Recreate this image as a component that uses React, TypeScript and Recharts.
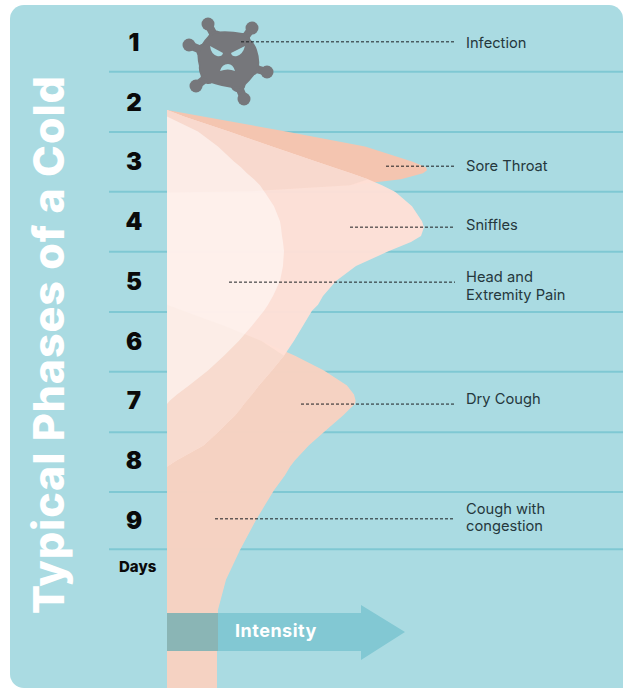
import { AreaChart, Area, XAxis, YAxis, CartesianGrid, ReferenceLine, ReferenceDot } from "recharts";

const PANEL = "#aadbe2";
const FONT = "Inter, 'Open Sans', sans-serif";

const days = [2.14, 2.25, 2.5, 2.75, 3, 3.1, 3.15, 3.2, 3.3, 3.4, 3.5, 3.52, 3.75, 4, 4.1, 4.25, 4.35, 4.5, 4.75, 5, 5.25, 5.4, 5.5, 5.75, 6, 6.25, 6.5, 6.75, 6.9, 7, 7.06, 7.15, 7.25, 7.5, 7.75, 8, 8.11, 8.25, 8.5, 8.75, 9, 9.5, 10, 10.5, 11, 11.81];

const n = null;
const soreThroat = [0, 18, 59.5, 99, 122.5, 129.5, 130, 128, 117, 91.5, 41.5, 0, n, n, n, n, n, n, n, n, n, n, n, n, n, n, n, n, n, n, n, n, n, n, n, n, n, n, n, n, n, n, n, n, n, n];
const sniffles = [0, 8.5, 31, 52.5, 74.5, 83, 87.5, 92, 100.5, 107.5, 113.5, 114.5, 122.5, 127.5, 128.5, 127, 122, 111, 94.5, 84.5, 78, 75.5, 72.5, 68, 63.5, 58.5, 52.5, 46, 42.5, 40, 38.5, 36.5, 34, 26.5, 18.5, 5, 0, n, n, n, n, n, n, n, n, n];
const headPain = [n, 0, 15.5, 25.5, 33.5, 37, 38.5, 40, 43.5, 46.5, 48.5, 49, 53.5, 56.5, 57, 57.5, 58, 58.5, 58, 56.5, 53, 50.5, 48.5, 42.5, 36, 28.5, 20.5, 11, 5, 1.5, 0, n, n, n, n, n, n, n, n, n, n, n, n, n, n, n];
const dryCough = [n, n, n, n, n, n, n, n, n, n, n, n, n, n, n, n, n, n, n, n, n, 0, 8, 28.5, 47, 64, 78.5, 90, 93.5, 94.3, 94, 91, 88, 79.5, 71, 64, 61.5, 59, 53.5, 49, 44.5, 36.5, 29.5, 25.5, 25, 25];

// where two symptoms overlap the source picture shows one muted tint
const overlap = (a: (number | null)[], b: (number | null)[]) =>
  a.map((v, i) => (v === null || b[i] === null ? null : Math.min(v as number, b[i] as number)));
const throatSniffles = overlap(soreThroat, sniffles);
const coughSniffles = overlap(dryCough, sniffles);

const data = days.map((day, i) => ({
  day,
  soreThroat: soreThroat[i],
  sniffles: sniffles[i],
  headPain: headPain[i],
  dryCough: dryCough[i],
  throatSniffles: throatSniffles[i],
  coughSniffles: coughSniffles[i],
}));

const dayTicks = [1, 2, 3, 4, 5, 6, 7, 8, 9];
const gridDays = [1.5, 2.51, 3.51, 4.51, 5.52, 6.52, 7.53, 8.53, 9.49];

const callouts = [
  { lines: ["Infection"], day: 1, labelDay: 1.02, from: 37 },
  { lines: ["Sore Throat"], day: 3.08, labelDay: 3.08, from: 109.5 },
  { lines: ["Sniffles"], day: 4.1, labelDay: 4.06, from: 91.5 },
  { lines: ["Head and", "Extremity Pain"], day: 5.02, labelDay: 5.04, from: 31 },
  { lines: ["Dry Cough"], day: 7.06, labelDay: 6.975, from: 67 },
  { lines: ["Cough with", "congestion"], day: 8.98, labelDay: 8.91, from: 24 },
];

function DayTick({ y, payload }: any) {
  return (
    <text x={134} y={y + 9} textAnchor="middle" fontFamily={FONT} fontSize={24} fontWeight={900} fill="#0a0a0a">
      {payload.value}
    </text>
  );
}

function CalloutText({ cx, cy, lines }: any) {
  const top = lines.length > 1 ? cy - 1 : cy + 5;
  return (
    <text x={cx} y={top} fontFamily={FONT} fontSize={14.7} fill="#25383d">
      {lines.map((l: string, i: number) => (
        <tspan key={l} x={cx} dy={i === 0 ? 0 : 17.5}>{l}</tspan>
      ))}
    </text>
  );
}

function Virus() {
  const arms = [[208, 24], [252, 28], [189, 45], [267, 72], [196, 86], [244, 99]];
  return (
    <g fill="#76777b" stroke="#76777b" strokeLinecap="round">
      {arms.map(([x, y]) => (
        <g key={x}>
          <line x1={228} y1={61} x2={x} y2={y} strokeWidth={8} />
          <line x1={228} y1={61} x2={228 + (x - 228) * 0.62} y2={61 + (y - 61) * 0.62} strokeWidth={15} />
          <circle cx={x} cy={y} r={6.5} strokeWidth={0} />
        </g>
      ))}
      <path
        d="M213 33 Q228 31 242 34 Q253 41 256 50 Q260 62 257 70 Q250 80 241 88 Q231 87 222 85 Q210 82 204 79 Q199 72 200 66 Q197 54 200 50 Q204 40 213 33 Z"
        strokeWidth={2}
        strokeLinejoin="round"
      />
      <g fill={PANEL} stroke="none">
        <path d="M210 46 L223 53 Q222 57 217 56 Q211 54 210 46 Z" />
        <path d="M245 46 L231 53 Q232 57 237 56 Q243 54 245 46 Z" />
        <path d="M220 71 Q222 64 228 64 Q233 64 235 71 Q228 68 220 71 Z" />
      </g>
    </g>
  );
}

export default function App() {
  return (
    <div style={{ position: "absolute", left: 0, top: 0, width: 623, height: 688, overflow: "hidden", background: "#fff" }}>
      <div style={{ position: "absolute", left: 10, top: 5, width: 613, height: 683, background: PANEL, borderRadius: "14px 14px 0 14px" }} />
      <AreaChart
        layout="vertical"
        width={623}
        height={688}
        data={data}
        margin={{ top: 0, right: 0, bottom: 0, left: 0 }}
        style={{ position: "absolute", left: 0, top: 0 }}
      >
        <CartesianGrid vertical={false} horizontalValues={gridDays} stroke="#7fc8d3" strokeWidth={2} />
        <XAxis type="number" domain={[-29, 228]} hide />
        <YAxis
          type="number"
          dataKey="day"
          width={109}
          domain={[0.3, 11.81]}
          ticks={dayTicks}
          axisLine={false}
          tickLine={false}
          tick={DayTick}
        />
        <Area dataKey="dryCough" fill="#f8d2c1" fillOpacity={0.97} stroke="none" isAnimationActive={false} />
        <Area dataKey="soreThroat" fill="#f4c5b0" fillOpacity={1} stroke="none" isAnimationActive={false} />
        <Area dataKey="sniffles" fill="#ffe0d6" fillOpacity={0.96} stroke="none" isAnimationActive={false} />
        <Area dataKey="throatSniffles" fill="#f8d9cd" fillOpacity={0.96} stroke="none" isAnimationActive={false} />
        <Area dataKey="coughSniffles" fill="#f8dbce" fillOpacity={0.96} stroke="none" isAnimationActive={false} />
        <Area dataKey="headPain" fill="#ffffff" fillOpacity={0.5} stroke="none" isAnimationActive={false} />
        <Virus />
        {callouts.map((c) => (
          <ReferenceLine
            key={c.lines[0]}
            segment={[{ x: c.from, y: c.day }, { x: 144, y: c.day }]}
            stroke="#1c1f22"
            strokeDasharray="3 2"
          />
        ))}
        {callouts.map((c) => (
          <ReferenceDot
            key={c.lines[0]}
            x={149.5}
            y={c.labelDay}
            r={0}
            shape={(p: any) => <CalloutText cx={p.cx} cy={p.cy} lines={c.lines} />}
          />
        ))}
        <text x={119} y={572} fontFamily={FONT} fontSize={15} fontWeight={800} fill="#0a0a0a">Days</text>
        <text
          transform="translate(64 614) rotate(-90)"
          fontFamily={FONT}
          fontSize={43}
          fontWeight={800}
          letterSpacing={0.9}
          fill="#fff"
        >
          Typical Phases of a Cold
        </text>
      </AreaChart>
      <svg width={623} height={688} style={{ position: "absolute", left: 0, top: 0, pointerEvents: "none" }}>
        <polygon points="167,613 361,613 361,605 405,632 361,660 361,651 167,651" fill="#82c8d3" />
        <rect x={167} y={613} width={51} height={38} fill="#8ab5b5" />
        <text x={235} y={637} fontFamily={FONT} fontSize={18} fontWeight={700} letterSpacing={0.5} fill="#fff">Intensity</text>
      </svg>
    </div>
  );
}
